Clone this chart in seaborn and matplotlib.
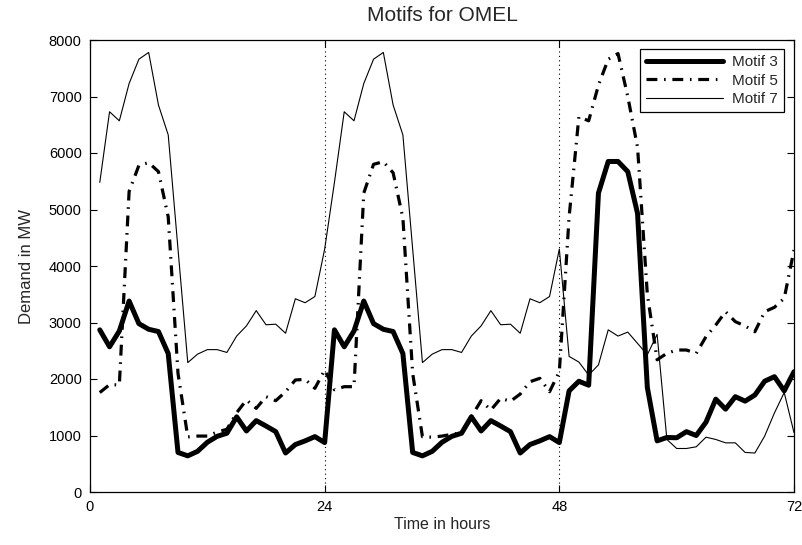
import matplotlib
matplotlib.use("Agg")
import matplotlib.pyplot as plt
import seaborn as sns
import pandas as pd

hours = list(range(1, 73))

motif3 = [
    2870, 2570, 2850, 3380, 2980, 2880, 2840, 2450, 700, 640, 720, 880,
    985, 1040, 1330, 1080, 1263, 1168, 1068, 690, 840, 905, 980, 875,
    2870, 2570, 2850, 3380, 2980, 2880, 2840, 2450, 700, 640, 720, 880,
    985, 1040, 1330, 1080, 1263, 1168, 1068, 690, 840, 905, 980, 875,
    1790, 1960, 1890, 5290, 5850, 5850, 5670, 4930, 1850, 905, 965, 960,
    1068, 1000, 1236, 1643, 1466, 1687, 1608, 1717, 1961, 2041, 1790, 2129,
]

motif5 = [
    1760, 1900, 1895, 5320, 5780, 5830, 5670, 4870, 2100, 975, 990, 990,
    1060, 1110, 1404, 1628, 1481, 1687, 1616, 1775, 1982, 1994, 1835, 2159,
    1810, 1864, 1864, 5290, 5800, 5846, 5650, 4850, 2100, 979, 970, 990,
    1020, 1050, 1333, 1616, 1451, 1658, 1605, 1734, 1952, 2012, 1775, 2130,
    4870, 6640, 6570, 7200, 7660, 7760, 7000, 6100, 3500, 2340, 2454, 2513,
    2513, 2454, 2749, 2956, 3191, 3015, 2938, 2837, 3191, 3269, 3428, 4283,
]

motif7 = [
    5480, 6730, 6570, 7230, 7660, 7780, 6850, 6320, 4300, 2290, 2440, 2520,
    2520, 2470, 2760, 2940, 3210, 2960, 2970, 2810, 3420, 3350, 3460, 4300,
    5480, 6730, 6570, 7230, 7660, 7780, 6850, 6320, 4300, 2290, 2440, 2520,
    2520, 2470, 2760, 2940, 3210, 2960, 2970, 2810, 3420, 3350, 3460, 4300,
    2400, 2300, 2070, 2250, 2870, 2760, 2830, 2630, 2430, 2790, 930, 770,
    770, 800, 970, 930, 870, 870, 700, 690, 990, 1400, 1760, 1050,
]

series_names = ["Motif 3", "Motif 5", "Motif 7"]
x_ticks = [0, 24, 48, 72]
y_ticks = [0, 1000, 2000, 3000, 4000, 5000, 6000, 7000, 8000]
day_bounds = [24, 48]

sns.set_style("ticks", {"xtick.direction": "in", "ytick.direction": "in"})
plt.rcParams["font.family"] = ["Liberation Sans", "DejaVu Sans"]

df = pd.DataFrame({
    "hour": hours * 3,
    "demand": motif3 + motif5 + motif7,
    "motif": [series_names[0]] * 72 + [series_names[1]] * 72 + [series_names[2]] * 72,
})

fig = plt.figure(figsize=(8.03, 5.45), dpi=100)
ax = fig.add_axes([90 / 803, 1 - 492 / 545, 704 / 803, 452 / 545])

styles = {
    "Motif 3": dict(linewidth=3.6, linestyle="-"),
    "Motif 5": dict(linewidth=2.3, linestyle=(0, (3.4, 2.1, 0.5, 2.1))),
    "Motif 7": dict(linewidth=0.8, linestyle="-"),
}

for b in day_bounds:
    ax.axvline(b, color="black", linestyle=(0, (1, 3)), linewidth=0.8, zorder=1)

for name in series_names:
    sub = df[df["motif"] == name]
    sns.lineplot(data=sub, x="hour", y="demand", ax=ax, color="black",
                 label=name, errorbar=None, zorder=3, **styles[name])

ax.set_xlim(0, 72)
ax.set_ylim(0, 8000)
ax.set_xticks(x_ticks)
ax.set_yticks(y_ticks)
ax.tick_params(axis="both", which="both", direction="in", top=True, right=True,
               length=5, width=0.8, labelsize=10.5, colors="black", pad=6)
for sp in ax.spines.values():
    sp.set_linewidth(0.9)
    sp.set_color("black")

ax.set_title("Motifs for OMEL", fontsize=15, pad=14)
ax.set_xlabel("Time in hours", fontsize=11.5, labelpad=2)
ax.set_ylabel("Demand in MW", fontsize=12, labelpad=11)

leg = ax.legend(loc="upper right", bbox_to_anchor=(0.9858, 0.98), fontsize=11,
                frameon=True, fancybox=False, shadow=False, framealpha=1,
                edgecolor="black", handlelength=5.0, handletextpad=0.6,
                borderpad=0.4, labelspacing=0.3, borderaxespad=0)
leg.get_frame().set_linewidth(0.9)

fig.savefig("out.png", dpi=100, facecolor="white")
